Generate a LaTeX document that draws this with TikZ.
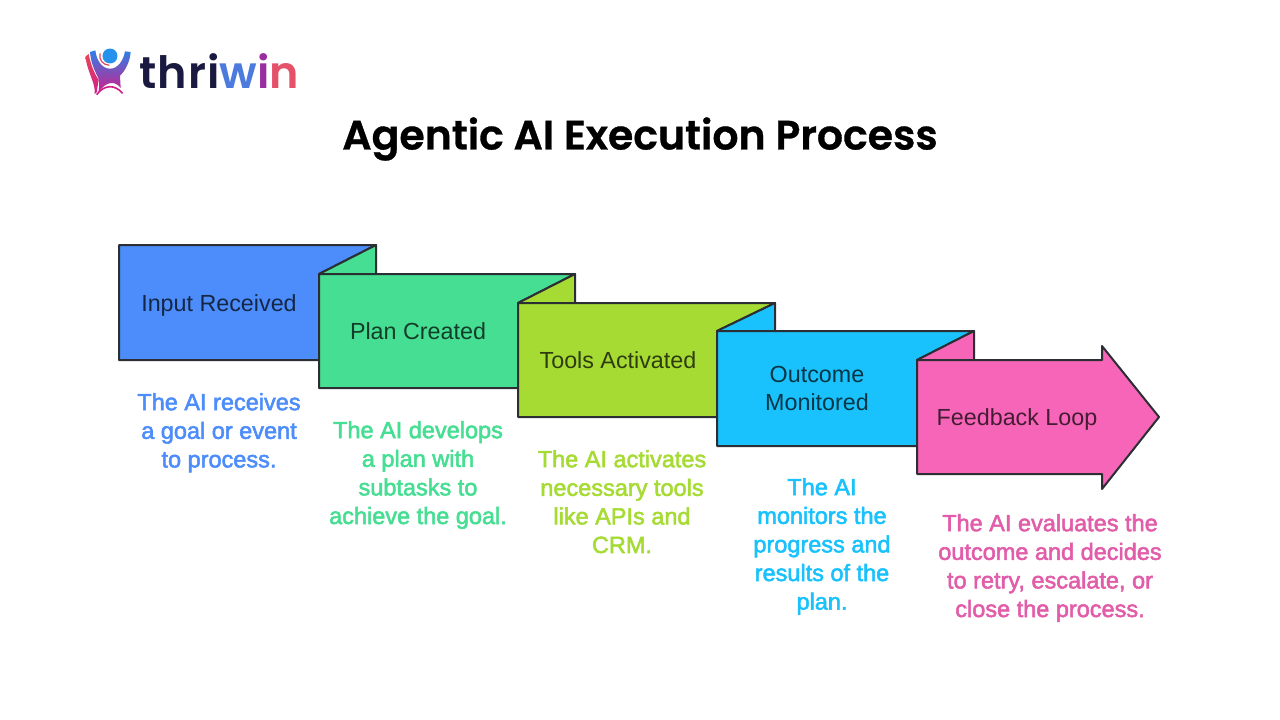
\documentclass[tikz,border=0pt]{standalone}
\usepackage{fontspec}
\setmainfont{Liberation Sans}
\newfontfamily\descfont{Liberation Sans}[FakeBold=2.2]
\newfontfamily\titlefont{Poppins}[UprightFont=* SemiBold,FakeBold=0.8]
\newfontfamily\logofont{Poppins}[UprightFont=* SemiBold,LetterSpace=2.5]
\usetikzlibrary{shadings}
\definecolor{cblue}{HTML}{4C8DFB}
\definecolor{cgreen}{HTML}{46DE92}
\definecolor{clime}{HTML}{A6DB34}
\definecolor{csky}{HTML}{19C2FC}
\definecolor{cpink}{HTML}{F665B8}
\definecolor{edge}{HTML}{2B2F33}
\definecolor{lgtop}{HTML}{2E7FE8}
\definecolor{lgmid}{HTML}{5A35C0}
\definecolor{lgbot}{HTML}{D01E8A}
\definecolor{lred}{HTML}{E8455A}
\tikzset{x=1pt,y=-1pt,
 shp/.style={draw=edge,line width=2pt,line join=round},
 blabel/.style={font=\fontsize{23.3}{28}\selectfont,text=black,text opacity=.72,align=center,inner sep=0pt,anchor=center},
 desc/.style={font=\descfont\fontsize{23.5}{28.6}\selectfont,align=center,inner sep=0pt,anchor=north},
}
\begin{document}
\begin{tikzpicture}
\useasboundingbox (0,0) rectangle (1280,720);
\fill[white] (0,0) rectangle (1280,720);
% logo figure
\begin{scope}[shift={(80,44)},scale=0.3333]
\path[shade,top color=lred,bottom color=lgbot] (16,38) -- (26,30) .. controls (32,62) and (44,90) .. (56,108) -- (50,145) -- (44,150) .. controls (48,120) and (24,90) .. (16,38) -- cycle;
\path[shade,top color=lgtop,middle color=lgmid,bottom color=lgbot] (30,24) -- (46,19) .. controls (50,50) and (66,74) .. (90,74) .. controls (114,74) and (130,50) .. (135,22) -- (152,24) .. controls (150,55) and (134,82) .. (120,95) -- (122,132) .. controls (106,110) and (78,110) .. (55,146) .. controls (60,120) and (58,106) .. (50,92) .. controls (40,72) and (32,50) .. (30,24) -- cycle;
\path[draw=lgbot,line width=1.6pt] (50,152) .. controls (72,122) and (104,120) .. (128,148);
\path[draw=lred,line width=1.2pt] (60,28) .. controls (56,48) and (68,62) .. (88,64);
\fill[lgtop!85!cyan] (90,36) circle[radius=22.5];
\end{scope}
\node[font=\logofont\fontsize{44.5}{45}\selectfont,inner sep=0pt,anchor=base west] (logo) at (139,88) {\textcolor[HTML]{1A1A40}{thri}\textcolor[HTML]{4D7BDD}{w}\textcolor[HTML]{9A2DA0}{i}\textcolor[HTML]{E4526A}{n}};
\node[font=\titlefont\fontsize{41}{41}\selectfont,inner sep=0pt] (title) at (640,139) {Agentic AI Execution Process};
% shapes
\path[shp,fill=cblue] (119,245) -- (376,245) -- (319,274) -- (319,360) -- (119,360) -- cycle;
\path[shp,fill=cgreen] (319,274) -- (376,245) -- (376,274) -- cycle;
\path[shp,fill=cgreen] (319,274) -- (575,274) -- (518,303) -- (518,388) -- (319,388) -- cycle;
\path[shp,fill=clime] (518,303) -- (575,274) -- (575,303) -- cycle;
\path[shp,fill=clime] (518,303) -- (775,303) -- (717,331) -- (717,417) -- (518,417) -- cycle;
\path[shp,fill=csky] (717,331) -- (775,303) -- (775,331) -- cycle;
\path[shp,fill=csky] (717,331) -- (974,331) -- (917,360) -- (917,446) -- (717,446) -- cycle;
\path[shp,fill=cpink] (917,360) -- (974,331) -- (974,360) -- cycle;
\path[shp,fill=cpink] (917,360) -- (1102,360) -- (1102,346) -- (1159,417) -- (1102,489) -- (1102,474) -- (917,474) -- cycle;
% box labels
\node[blabel] (b1) at (219,305) {Input Received};
\node[blabel] (b2) at (418,331) {Plan Created};
\node[blabel] (b3) at (618,360) {Tools Activated};
\node[blabel] (b4) at (817,388) {Outcome\\Monitored};
\node[blabel] (b5) at (1017,419) {Feedback Loop};
% descriptions
\node[desc,text=cblue] (d1) at (219,393) {The AI receives\\a goal or event\\to process.};
\node[desc,text=cgreen] (d2) at (418,421) {The AI develops\\a plan with\\subtasks to\\achieve the goal.};
\node[desc,text=clime] (d3) at (622,450) {The AI activates\\necessary tools\\like APIs and\\CRM.};
\node[desc,text=csky] (d4) at (822,478) {The AI\\monitors the\\progress and\\results of the\\plan.};
\node[desc,text=cpink!92!black] (d5) at (1050,514) {The AI evaluates the\\outcome and decides\\to retry, escalate, or\\close the process.};
\end{tikzpicture}
\end{document}
